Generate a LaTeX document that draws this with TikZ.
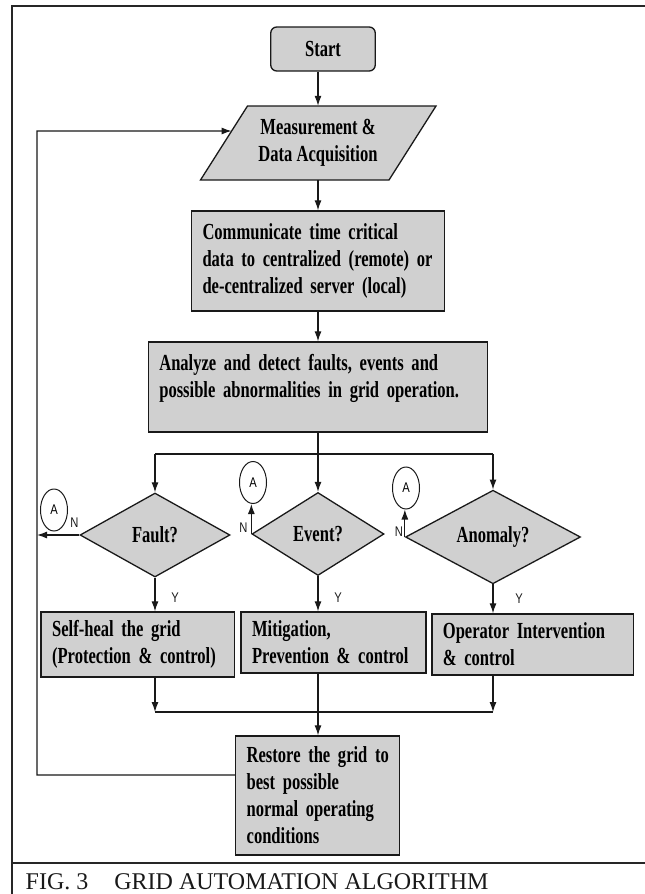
\documentclass[tikz,border=0pt]{standalone}
\usepackage{fontspec}
\usetikzlibrary{shapes.geometric,arrows.meta,intersections}
\newfontfamily\boxfont[FakeStretch=0.72]{Liberation Serif}
\newfontfamily\capfont{Liberation Serif}
\newfontfamily\tagfont[FakeStretch=0.8]{Liberation Sans}
\definecolor{boxgray}{RGB}{208,208,208}
\definecolor{ink}{RGB}{25,25,25}
\newcommand\boxtxt{\boxfont\bfseries\fontsize{23}{27}\selectfont}
\newcommand\tagtxt{\tagfont\fontsize{14}{16}\selectfont}
\newcommand\oneline[1]{\mbox{#1}}

\begin{document}
\begin{tikzpicture}[x=1pt,y=-1pt,
  shapefill/.style={draw=ink, fill=boxgray, line width=1.3pt},
  box/.style={shapefill, align=left, inner xsep=11pt, inner ysep=0pt, font=\boxtxt},
  startbox/.style={shapefill, rounded corners=6pt,
    minimum width=104.5pt, minimum height=44pt, inner sep=0pt, font=\boxtxt},
  paratext/.style={minimum width=189pt, minimum height=74pt, inner sep=0pt,
    align=center, font=\boxtxt},
  decision/.style={diamond, shapefill, inner sep=0pt, font=\boxtxt},
  conn/.style={ellipse, draw=ink, line width=1pt, minimum width=27pt,
    minimum height=42pt, inner sep=0pt, font=\tagtxt},
  tag/.style={inner sep=0pt, font=\tagtxt, text=ink},
  wire/.style={draw=ink, line width=1.2pt},
  arr/.style={wire, -{Latex[length=10pt,width=7pt]}},
  frame/.style={draw=black!85, line width=2.4pt}
]
\useasboundingbox (0,0) rectangle (645,894);

% outer frame and caption strip
\draw[frame] (645,6) -- (12,6) -- (12,894);
\draw[frame] (12,863) -- (645,863);
\node[anchor=base west, inner sep=0pt, text=ink, font=\capfont\fontsize{24}{26}\selectfont]
  (caption) at (25.5,889) {FIG. 3\hspace{26pt}GRID AUTOMATION ALGORITHM};

% start terminal
\node[startbox] (start) at (323,49) {Start};

% input/output parallelogram
\coordinate (pBL) at (200.5,180);
\coordinate (pBR) at (389,180);
\coordinate (pTR) at (436,106);
\coordinate (pTL) at (247.5,106);
\draw[shapefill] (pBL) -- (pBR) -- (pTR) -- (pTL) -- cycle;
\node[paratext] (para) at (318,143) {Measurement \&\\Data Acquisition};

% processing boxes
\node[box, text width=231pt, minimum height=100pt] (comm) at (318,261)
  {\oneline{Communicate time critical}\\\oneline{data to centralized (remote) or}\\\oneline{de-centralized server (local)}};
\node[box, text width=317.4pt, minimum height=90pt] (analyze) at (318,387)
  {\oneline{Analyze and detect faults, events and}\\\oneline{possible abnormalities in grid operation.}\\[-5pt]\mbox{}};

% decisions
\node[decision, minimum width=150pt, minimum height=84pt] (fault) at (155,535) {Fault?};
\node[decision, minimum width=132pt, minimum height=83pt] (event) at (318,534) {Event?};
\node[decision, minimum width=175pt, minimum height=85pt] (anomaly) at (493,537) {Anomaly?};

% off-page connectors
\node[conn] (faultA) at (54,510) {A};
\node[conn] (eventA) at (253,482.5) {A};
\node[conn] (anomA) at (406,488) {A};

% actions
\node[box, text width=171.4pt, minimum height=65pt] (selfheal) at (137.8,644.5)
  {\oneline{Self-heal the grid}\\\oneline{(Protection \& control)}};
\node[box, text width=163pt, minimum height=61pt] (mitig) at (333.6,642.5)
  {\oneline{Mitigation,}\\\oneline{Prevention \& control}};
\node[box, text width=179.6pt, minimum height=61pt] (operator) at (532.7,644.5)
  {\oneline{Operator Intervention}\\\oneline{\& control}};
\node[box, text width=141.7pt, minimum height=119pt] (restore) at (317.5,795.5)
  {\oneline{Restore the grid to}\\\oneline{best possible}\\\oneline{normal operating}\\\oneline{conditions}};

% helper points
\coordinate (branch) at (318,454);
\coordinate (merge) at (318,712);
\coordinate (loopbot) at (37,775);
\coordinate (looptop) at (37,131);
\coordinate (aux) at (looptop -| para.center);
\path[name path=paraleft] (pBL) -- (pTL);
\path[name path=loopline] (looptop) -- (aux);
\path[name intersections={of=paraleft and loopline, by=loopend}];

% main flow
\draw[arr] (start.south -| para.north) -- (para.north);
\draw[arr] (para.south) -- (comm.north);
\draw[arr] (comm.south) -- (analyze.north);
\draw[wire] (analyze.south) -- (branch);
\draw[wire] (fault.north |- branch) -- (anomaly.north |- branch);
\draw[arr] (fault.north |- branch) -- (fault.north);
\draw[arr] (branch) -- (event.north);
\draw[arr] (anomaly.north |- branch) -- (anomaly.north);

% yes branches
\draw[arr] (fault.south) -- node[tag, pos=0.6, xshift=20pt] (faultY) {Y} (fault.south |- selfheal.north);
\draw[arr] (event.south) -- node[tag, pos=0.6, xshift=20pt] (eventY) {Y} (event.south |- mitig.north);
\draw[arr] (anomaly.south) -- node[tag, pos=0.5, xshift=26pt] (anomY) {Y} (anomaly.south |- operator.north);

% no branches
\draw[arr] (fault.west) -- (fault.west -| loopbot);
\draw[arr] (event.west) -- (event.west |- eventA.south);
\draw[arr] (anomaly.west) -- (anomaly.west |- anomA.south);
\node[tag] (faultN) at ([shift={(-5,-12)}]fault.west) {N};
\node[tag] (eventN) at ([shift={(-8,-6)}]event.west) {N};
\node[tag] (anomN) at ([shift={(-6,-5)}]anomaly.west) {N};

% merge into restore
\draw[arr] (fault.south |- selfheal.south) -- (fault.south |- merge);
\draw[arr] (anomaly.south |- operator.south) -- (anomaly.south |- merge);
\draw[wire] (fault.south |- merge) -- (anomaly.south |- merge);
\draw[arr] (event.south |- mitig.south) -- (event.south |- restore.north);

% feedback loop
\draw[arr] (restore.west |- loopbot) -- (loopbot) -- (looptop) -- (loopend);
\end{tikzpicture}
\end{document}
